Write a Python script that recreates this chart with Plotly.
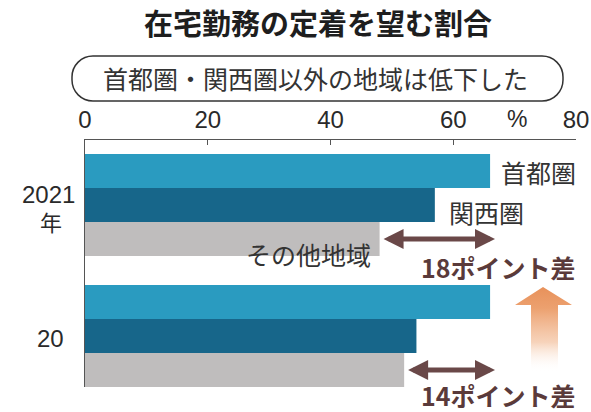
import plotly.graph_objects as go

# ---------------- data ----------------
years = ["2021", "20"]
year_unit = "年"
regions = ["首都圏", "関西圏", "その他地域"]
shuto = [66, 66]
kansai = [57, 54]
other = [48, 52]
x_ticks = [0, 20, 40, 60, 80]
gap_labels = ["18ポイント差", "14ポイント差"]
colors = ["#2A9BC0", "#17668A", "#BFBDBD"]

title = "在宅勤務の定着を望む割合"
subtitle = "首都圏・関西圏以外の地域は低下した"

# ---------------- layout helpers ----------------
W, H = 591, 412
L, R, T, B = 85, 576, 140, 387


def px(xp):
    return (xp - L) / (R - L)


def py(yp):
    return (B - yp) / (B - T)


JP = "Noto Sans CJK JP"
NUM = "Liberation Sans, Arial, sans-serif"
DARK = "#2a2a2a"
BROWN = "#6A4848"

fig = go.Figure()
for name, vals, col in zip(regions, [shuto, kansai, other], colors):
    fig.add_trace(go.Bar(
        y=years, x=vals, name=name, orientation="h",
        marker=dict(color=col, line=dict(width=0)),
        showlegend=False, hoverinfo="skip",
    ))

# gradient arrow (decoration) on an overlay pixel axis
ax_pts = [(543, 287), (572, 305), (558, 305), (558, 372), (531, 372), (531, 305), (515, 305), (543, 287)]
fig.add_trace(go.Scatter(
    x=[p[0] for p in ax_pts], y=[H - p[1] for p in ax_pts],
    xaxis="x2", yaxis="y2", mode="lines", line=dict(width=0, color="rgba(0,0,0,0)"),
    fill="toself",
    fillgradient=dict(type="vertical",
                      colorscale=[[0, "rgba(255,255,255,0)"], [0.35, "rgba(240,175,130,0.55)"],
                                  [0.75, "rgba(234,150,95,0.9)"], [1, "#E8915A"]]),
    showlegend=False, hoverinfo="skip",
))

group = 1 - 0.221
bw = group / 3
off = [-bw, 0, bw]


def A(**kw):
    d = dict(showarrow=False, xanchor="center", yanchor="middle")
    d.update(kw)
    return d


ann = []
# title and subtitle
ann.append(A(text=f"<b>{title}</b>", x=px(317.5), y=py(22), xref="paper", yref="paper",
             font=dict(family=JP, size=29, color="#1e1e1e")))
ann.append(A(text=subtitle, x=px(315), y=py(78), xref="paper", yref="paper",
             font=dict(family=JP, size=25, color="#333")))
# percent sign
ann.append(A(text="%", x=px(517), y=py(119), xref="paper", yref="paper",
             font=dict(family=NUM, size=23, color=DARK)))
# year labels (category index numbers)
ann.append(A(text=years[0], x=px(48), y=0, xref="paper", yref="y", yshift=10,
             font=dict(family=NUM, size=24, color=DARK)))
ann.append(A(text=year_unit, x=px(51), y=0, xref="paper", yref="y", yshift=-16,
             font=dict(family=JP, size=22, color=DARK)))
ann.append(A(text=years[1], x=px(50), y=1, xref="paper", yref="y", yshift=-2,
             font=dict(family=NUM, size=24, color=DARK)))
# region labels (2021 group)
ann.append(A(text=regions[0], x=shuto[0], y=0 + off[0], xref="x", yref="y", xanchor="left",
             xshift=9, yshift=-1, font=dict(family=JP, size=25, color="#333")))
ann.append(A(text=regions[1], x=kansai[0], y=0 + off[1], xref="x", yref="y", xanchor="left",
             xshift=12, yshift=-7, font=dict(family=JP, size=25, color="#333")))
ann.append(A(text=regions[2], x=other[0], y=0 + off[2], xref="x", yref="y", xanchor="right",
             xshift=-7, yshift=-15, font=dict(family=JP, size=25, color="#333")))
# double arrows and gap labels
gap_text_y = [267, 395]
for i in range(2):
    ann.append(dict(text="", x=shuto[i] + 0.8, y=i + off[2], ax=other[i] + 0.4, ay=i + off[2],
                    xref="x", yref="y", axref="x", ayref="y", showarrow=True,
                    arrowhead=2, arrowside="end+start", arrowwidth=5, arrowsize=0.8,
                    arrowcolor=BROWN, standoff=0, startstandoff=0))
    ann.append(A(text=f"<b>{gap_labels[i]}</b>", x=px(419), y=py(gap_text_y[i]), xref="paper",
                 yref="paper", xanchor="left", font=dict(family=JP, size=25, color="#5A3A3A")))

# stadium box around the subtitle
x1, x2, y1, y2, r = 72, 563, 56, 101, 21
k = 0.5523 * r


def P(a, b):
    return f"{px(a):.5f},{py(b):.5f}"


path = (f"M {P(x1 + r, y1)} L {P(x2 - r, y1)} "
        f"C {P(x2 - r + k, y1)} {P(x2, y1 + r - k)} {P(x2, y1 + r)} "
        f"L {P(x2, y2 - r)} C {P(x2, y2 - r + k)} {P(x2 - r + k, y2)} {P(x2 - r, y2)} "
        f"L {P(x1 + r, y2)} C {P(x1 + r - k, y2)} {P(x1, y2 - r + k)} {P(x1, y2 - r)} "
        f"L {P(x1, y1 + r)} C {P(x1, y1 + r - k)} {P(x1 + r - k, y1)} {P(x1 + r, y1)} Z")

fig.update_layout(
    width=W, height=H, autosize=False,
    margin=dict(l=L, r=W - R, t=T, b=H - B, pad=0, autoexpand=False),
    paper_bgcolor="white", plot_bgcolor="white",
    barmode="group", bargap=0.221, bargroupgap=0,
    showlegend=False,
    xaxis=dict(range=[0, 80], side="top", tickvals=x_ticks, ticktext=[str(v) for v in x_ticks],
               showline=True, linecolor="#555", linewidth=1.3, ticks="inside", ticklen=5,
               tickwidth=1.3, tickcolor="#555", showgrid=False, zeroline=False, automargin=False,
               ticklabelstandoff=1,
               tickfont=dict(family=NUM, size=24, color=DARK), fixedrange=True),
    yaxis=dict(type="category", range=[1.389, -0.496], showline=True, linecolor="#555",
               linewidth=1.3, showticklabels=False, ticks="", showgrid=False, zeroline=False,
               automargin=False, fixedrange=True),
    xaxis2=dict(overlaying="x", range=[L, R], visible=False, anchor="y2", automargin=False),
    yaxis2=dict(overlaying="y", range=[H - B, H - T], visible=False, anchor="x2", automargin=False),
    annotations=ann,
    shapes=[dict(type="path", path=path, xref="paper", yref="paper",
                 line=dict(color="#333", width=1.5), fillcolor="rgba(0,0,0,0)")],
)

fig.write_html("out.html", config={"displayModeBar": False},
               post_script="document.body.style.margin='0';document.body.style.padding='0';")
